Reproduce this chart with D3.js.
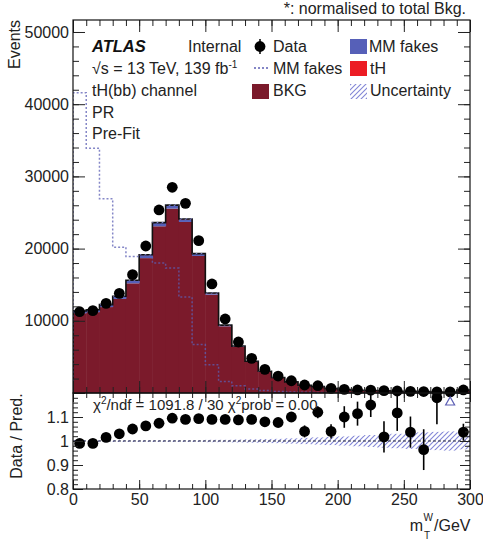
<!DOCTYPE html>
<html>
<head>
<meta charset="utf-8">
<script src="https://d3js.org/d3.v7.min.js"></script>
<style>
  body { margin: 0; background: #fff; }
  svg { font-family: "Liberation Sans", Arial, sans-serif; }
  .axis text { font-size: 16px; fill: #222; }
  .axis line { stroke: #222; }
</style>
</head>
<body>
<svg id="chart" width="483" height="540"></svg>
<script>
// bin low edges (GeV), 10 GeV bins from 0 to 300
const binEdges = [0,10,20,30,40,50,60,70,80,90,100,110,120,130,140,150,160,170,180,190,200,210,220,230,240,250,260,270,280,290,300];

// stacked prediction (events per bin)
const bkg     = [11050,11200,11900,13030,15190,18680,23090,25540,23690,18980,13620,9240,6380,4320,2950,2110,1510,1045,885,615,455,370,340,310,245,215,205,132,116,390];
const mmFakes = [300,300,320,340,380,420,450,420,360,280,200,140,100,70,50,40,30,22,18,14,10,8,7,6,5,4,4,3,3,8];
const tH      = [20,20,25,30,40,50,60,60,50,40,30,20,15,10,8,6,5,4,3,3,2,2,2,1,1,1,1,1,1,2];

// MM fakes shape, normalised to total bkg (dotted line)
const mmShape = [41600,33900,26900,20200,18900,18900,18000,17300,13300,6700,3900,1600,1000,550,350,220,150,100,80,60,50,40,30,25,20,15,12,10,8,20];

// observed data
const dataVals = [11260,11400,12420,13800,16390,20360,25350,28490,26270,21100,15100,10250,7060,4800,3280,2350,1700,1110,1010,650,510,420,400,320,280,230,200,160,150,420];

// ratio panel
const ratio    = [0.99,0.99,1.015,1.03,1.05,1.063,1.074,1.095,1.09,1.093,1.09,1.09,1.088,1.09,1.08,1.077,1.10,1.04,1.12,1.04,1.10,1.114,1.15,1.017,1.117,1.037,0.964,1.18,1.25,1.037];
const ratioErr = [0.003,0.003,0.003,0.004,0.004,0.004,0.004,0.004,0.004,0.004,0.005,0.006,0.007,0.008,0.01,0.012,0.015,0.025,0.025,0.03,0.045,0.05,0.05,0.065,0.075,0.065,0.085,0.11,0.1,0.035];
const uncRel   = [0.004,0.004,0.004,0.004,0.004,0.004,0.004,0.004,0.004,0.004,0.005,0.005,0.006,0.007,0.008,0.009,0.011,0.013,0.015,0.017,0.019,0.022,0.025,0.028,0.03,0.033,0.036,0.038,0.04,0.035];

const xMajor = [0,50,100,150,200,250,300];
const yMajor = [0,10000,20000,30000,40000,50000];
const rMajor = [0.8,0.9,1,1.1,1.2];

const C_BKG = "#7b1a2b", C_MM = "#5660b8", C_TH = "#ec1c24", C_DASH = "#5c5fb4", C_HATCH = "#8286d6";

const svg = d3.select("#chart");
const L = 73, R = 470, T = 20, MID = 393, B = 489;

const x  = d3.scaleLinear().domain([0, 300]).range([L, R]);
const y  = d3.scaleLinear().domain([0, 51660]).range([MID, T]);
const yr = d3.scaleLinear().domain([0.8, 1.2]).range([B, MID]);

const defs = svg.append("defs");
defs.append("clipPath").attr("id", "clipTop").append("rect")
    .attr("x", L).attr("y", T).attr("width", R - L).attr("height", MID - T);
defs.append("clipPath").attr("id", "clipBot").append("rect")
    .attr("x", L).attr("y", MID).attr("width", R - L).attr("height", B - MID);
const pat = defs.append("pattern").attr("id", "hatch").attr("patternUnits", "userSpaceOnUse")
    .attr("width", 5).attr("height", 5);
pat.append("path").attr("d", "M-1,1 l2,-2 M0,5 l5,-5 M4,6 l2,-2")
    .attr("stroke", C_HATCH).attr("stroke-width", 1.1);

const bins = bkg.map((b, i) => ({
  lo: binEdges[i], hi: binEdges[i + 1], mid: (binEdges[i] + binEdges[i + 1]) / 2,
  bkg: b, mm: mmFakes[i], th: tH[i], tot: b + mmFakes[i] + tH[i],
  shape: mmShape[i], data: dataVals[i], r: ratio[i], rErr: ratioErr[i], unc: uncRel[i]
}));

// ---------- top panel ----------
const gTop = svg.append("g").attr("clip-path", "url(#clipTop)");

gTop.selectAll(".bkg").data(bins).enter().append("rect")
    .attr("x", d => x(d.lo)).attr("width", d => x(d.hi) - x(d.lo) + 0.5)
    .attr("y", d => y(d.bkg)).attr("height", d => y(0) - y(d.bkg))
    .attr("fill", C_BKG);
gTop.selectAll(".mm").data(bins).enter().append("rect")
    .attr("x", d => x(d.lo)).attr("width", d => x(d.hi) - x(d.lo) + 0.5)
    .attr("y", d => y(d.bkg + d.mm)).attr("height", d => y(d.bkg) - y(d.bkg + d.mm))
    .attr("fill", C_MM);
gTop.selectAll(".th").data(bins).enter().append("rect")
    .attr("x", d => x(d.lo)).attr("width", d => x(d.hi) - x(d.lo) + 0.5)
    .attr("y", d => y(d.tot)).attr("height", d => y(d.bkg + d.mm) - y(d.tot))
    .attr("fill", C_TH);

function stepPath(key, yScale) {
  let p = "M" + x(bins[0].lo) + "," + yScale(0);
  bins.forEach(d => { p += "L" + x(d.lo) + "," + yScale(d[key]) + "L" + x(d.hi) + "," + yScale(d[key]); });
  p += "L" + x(bins[bins.length - 1].hi) + "," + yScale(0);
  return p;
}

gTop.append("path").attr("d", stepPath("tot", y))
    .attr("fill", "none").attr("stroke", "#111").attr("stroke-width", 1.6);

gTop.selectAll(".unc").data(bins).enter().append("rect")
    .attr("x", d => x(d.lo)).attr("width", d => x(d.hi) - x(d.lo))
    .attr("y", d => y(d.tot * (1 + d.unc))).attr("height", d => y(d.tot * (1 - d.unc)) - y(d.tot * (1 + d.unc)))
    .attr("fill", "url(#hatch)");

gTop.append("path").attr("d", stepPath("shape", y))
    .attr("fill", "none").attr("stroke", C_DASH).attr("stroke-width", 1.5)
    .attr("stroke-dasharray", "2,2").attr("opacity", 0.75);

// data points
svg.selectAll(".derr").data(bins).enter().append("line")
    .attr("x1", d => x(d.mid)).attr("x2", d => x(d.mid))
    .attr("y1", d => y(d.data + Math.sqrt(d.data))).attr("y2", d => y(d.data - Math.sqrt(d.data)))
    .attr("stroke", "#000").attr("stroke-width", 1.5);
svg.selectAll(".dpt").data(bins).enter().append("circle")
    .attr("cx", d => x(d.mid)).attr("cy", d => y(d.data)).attr("r", 5.4)
    .attr("fill", "#000");

// ---------- ratio panel ----------
const gBot = svg.append("g").attr("clip-path", "url(#clipBot)");
gBot.selectAll(".runc").data(bins).enter().append("rect")
    .attr("x", d => x(d.lo)).attr("width", d => x(d.hi) - x(d.lo) + 0.3)
    .attr("y", d => yr(1 + d.unc)).attr("height", d => yr(1 - d.unc) - yr(1 + d.unc))
    .attr("fill", "url(#hatch)");
gBot.append("line").attr("x1", L).attr("x2", R).attr("y1", yr(1)).attr("y2", yr(1))
    .attr("stroke", "#334").attr("stroke-width", 1.2).attr("stroke-dasharray", "3,2");

const inR = bins.filter(d => d.r <= 1.2), outR = bins.filter(d => d.r > 1.2);
gBot.selectAll(".rerr").data(inR).enter().append("line")
    .attr("x1", d => x(d.mid)).attr("x2", d => x(d.mid))
    .attr("y1", d => yr(d.r + d.rErr)).attr("y2", d => yr(d.r - d.rErr))
    .attr("stroke", "#000").attr("stroke-width", 1.6);
gBot.selectAll(".rpt").data(inR).enter().append("circle")
    .attr("cx", d => x(d.mid)).attr("cy", d => yr(d.r)).attr("r", 5.4).attr("fill", "#000");
gBot.selectAll(".rout").data(outR).enter().append("path")
    .attr("d", d => { const cx = x(d.mid), cy = yr(1.2) + 8; return `M${cx - 4.5},${cy + 4} L${cx + 4.5},${cy + 4} L${cx},${cy - 4} Z`; })
    .attr("fill", "none").attr("stroke", C_DASH).attr("stroke-width", 1.2);

// ---------- axes ----------
function xAxes(yPos, yTop, major, minor, labels) {
  const gB = svg.append("g").attr("class", "axis").attr("transform", `translate(0,${yPos})`);
  gB.call(d3.axisBottom(x).tickValues(d3.range(0, 301, 10)).tickSize(-minor).tickFormat(""));
  gB.append("g").call(d3.axisBottom(x).tickValues(xMajor).tickSize(-major).tickPadding(5)
      .tickFormat(labels ? d3.format("d") : ""));
  const gT = svg.append("g").attr("class", "axis").attr("transform", `translate(0,${yTop})`);
  gT.call(d3.axisTop(x).tickValues(d3.range(0, 301, 10)).tickSize(-minor).tickFormat(""));
  gT.append("g").call(d3.axisTop(x).tickValues(xMajor).tickSize(-major).tickFormat(""));
  svg.selectAll(".axis .domain").remove();
}
function yAxes(scale, minorVals, majorVals, fmt, major, minor) {
  const gL = svg.append("g").attr("class", "axis").attr("transform", `translate(${L},0)`);
  gL.call(d3.axisLeft(scale).tickValues(minorVals).tickSize(-minor).tickFormat(""));
  gL.append("g").call(d3.axisLeft(scale).tickValues(majorVals).tickSize(-major).tickPadding(4).tickFormat(fmt));
  const gR = svg.append("g").attr("class", "axis").attr("transform", `translate(${R},0)`);
  gR.call(d3.axisRight(scale).tickValues(minorVals).tickSize(-minor).tickFormat(""));
  gR.append("g").call(d3.axisRight(scale).tickValues(majorVals).tickSize(-major).tickFormat(""));
  svg.selectAll(".axis .domain").remove();
}

xAxes(MID, T, 12, 6, false);
xAxes(B, MID, 9, 5, true);
yAxes(y, d3.range(0, 51001, 2000), yMajor, d => d === 0 ? "" : d3.format("d")(d), 12, 6);
yAxes(yr, d3.range(0.8, 1.201, 0.02), rMajor, d => d > 1.15 ? "" : (d === 1 ? "1" : d3.format(".1f")(d)), 10, 5);

svg.append("rect").attr("x", L).attr("y", T).attr("width", R - L).attr("height", MID - T)
    .attr("fill", "none").attr("stroke", "#111").attr("stroke-width", 1.2);
svg.append("rect").attr("x", L).attr("y", MID).attr("width", R - L).attr("height", B - MID)
    .attr("fill", "none").attr("stroke", "#111").attr("stroke-width", 1.2);

// ---------- text ----------
const txt = (xp, yp, s, opt = {}) => svg.append("text").attr("x", xp).attr("y", yp)
    .attr("font-size", opt.size || 16).attr("fill", "#222")
    .attr("text-anchor", opt.anchor || "start").text(s);

txt(466, 14, "*: normalised to total Bkg.", { anchor: "end" });
svg.append("text").attr("transform", "translate(20,20) rotate(-90)")
    .attr("text-anchor", "end").attr("font-size", 16).attr("fill", "#222").text("Events");
svg.append("text").attr("transform", "translate(22,436) rotate(-90)")
    .attr("text-anchor", "middle").attr("font-size", 16).attr("fill", "#222").text("Data / Pred.");

// x-axis title: m_T^W/GeV
txt(434, 531, "/GeV");
txt(423, 531, "m", { anchor: "end" });
txt(423.5, 521, "W", { size: 10 });
txt(424, 539, "T", { size: 10 });

// chi2
const c2 = svg.append("text").attr("x", 93).attr("y", 410).attr("font-size", 15).attr("fill", "#222");
c2.append("tspan").text("χ");
c2.append("tspan").attr("font-size", 10).attr("dy", -6).text("2");
c2.append("tspan").attr("dy", 6).text("/ndf = 1091.8 / 30  χ");
c2.append("tspan").attr("font-size", 10).attr("dy", -6).text("2");
c2.append("tspan").attr("dy", 6).text("prob = 0.00");

// legend block
svg.append("text").attr("x", 92).attr("y", 52).attr("font-size", 16.5).attr("font-weight", "bold")
    .attr("font-style", "italic").attr("fill", "#111").text("ATLAS");
txt(188, 52, "Internal");
const sq = svg.append("text").attr("x", 92).attr("y", 74).attr("font-size", 16).attr("fill", "#222");
sq.append("tspan").text("√s = 13 TeV, 139 fb");
sq.append("tspan").attr("font-size", 10).attr("dy", -6).text("-1");
txt(92, 96, "tH(bb) channel");
txt(92, 118, "PR");
txt(92, 139, "Pre-Fit");

// Data marker
svg.append("line").attr("x1", 260).attr("x2", 260).attr("y1", 39).attr("y2", 54).attr("stroke", "#000").attr("stroke-width", 1.5);
svg.append("circle").attr("cx", 260).attr("cy", 46.5).attr("r", 5.4).attr("fill", "#000");
txt(273, 52, "Data");
svg.append("line").attr("x1", 254).attr("x2", 270).attr("y1", 68).attr("y2", 68)
    .attr("stroke", C_DASH).attr("stroke-width", 1.6).attr("stroke-dasharray", "2,2");
txt(273, 74, "MM fakes");
svg.append("rect").attr("x", 252).attr("y", 84).attr("width", 17).attr("height", 15).attr("fill", C_BKG);
txt(273, 96, "BKG");

svg.append("rect").attr("x", 350).attr("y", 39).attr("width", 17).attr("height", 15).attr("fill", C_MM);
txt(369, 52, "MM fakes");
svg.append("rect").attr("x", 350).attr("y", 61).attr("width", 17).attr("height", 15).attr("fill", C_TH);
txt(370, 74, "tH");
svg.append("rect").attr("x", 350).attr("y", 84).attr("width", 17).attr("height", 15).attr("fill", "url(#hatch)");
txt(370, 96, "Uncertainty");
</script>
</body>
</html>
